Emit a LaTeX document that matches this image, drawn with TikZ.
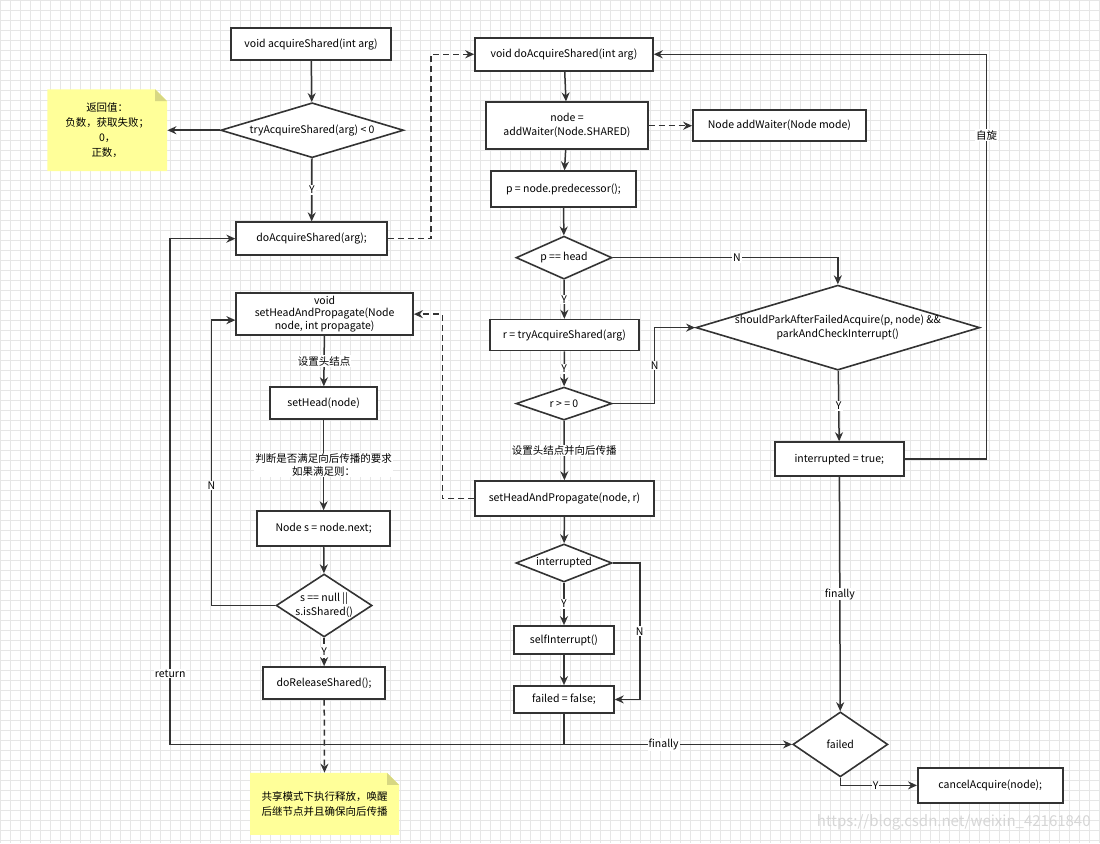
\documentclass[tikz,border=0pt]{standalone}
\usepackage{fontspec}
\setmainfont{Noto Sans CJK SC}
\usetikzlibrary{shapes.geometric,arrows.meta,calc}
\definecolor{ln}{RGB}{51,51,51}
\definecolor{notey}{RGB}{255,255,153}
\definecolor{notef}{RGB}{215,215,130}
\definecolor{gridc}{RGB}{230,230,230}
\begin{document}
\begin{tikzpicture}[x=1pt,y=-1pt, font=\fontsize{10.5}{14}\selectfont,
 box/.style={draw=ln, line width=1.6pt, fill=white, align=center, inner sep=2pt},
 dia/.style={diamond, draw=ln, line width=1.6pt, fill=white, inner sep=0pt},
 arr/.style={draw=ln, line width=1.5pt, -{Stealth[length=9pt,width=8pt]}},
 ln/.style={draw=ln, line width=1.5pt},
 dsh/.style={dash pattern=on 6pt off 4pt},
 lbl/.style={fill=white, inner sep=1pt, text=black},
 notetext/.style={align=center, font=\fontsize{10.5}{15}\selectfont}]
% background and grid
\fill[white] (0,0) rectangle (1100,843);
\draw[gridc, line width=0.6pt, step=10pt] (0,0) grid (1100,843);
\useasboundingbox (0,0) rectangle (1100,843);
% notes (shapes)
\fill[notey] (47,89) -- (155,89) -- (167,101) -- (167,171) -- (47,171) -- cycle;
\fill[notef] (155,89) -- (167,101) -- (155,101) -- cycle;
\fill[notey] (250,773) -- (387,773) -- (399,785) -- (399,835) -- (250,835) -- cycle;
\fill[notef] (387,773) -- (399,785) -- (387,785) -- cycle;
\node[notetext, minimum width=120, minimum height=82] (n1) at (107,130) {返回值：\\负数，获取失败；\\0，\\正数，};
\node[notetext, minimum width=149, minimum height=62] (n2) at (324.5,804) {共享模式下执行释放，唤醒\\后继节点并且确保向后传播};
% left column
\node[box, minimum width=160, minimum height=32] (acq) at (311,44) {void acquireShared(int arg)};
\node[dia, minimum width=183, minimum height=55, label={center:tryAcquireShared(arg) < 0}] (tas) at (312,130) {};
\node[box, minimum width=151, minimum height=33] (da) at (311.5,238.5) {doAcquireShared(arg);};
\node[box, minimum width=177, minimum height=42, font=\fontsize{10.5}{13}\selectfont] (shp2) at (324.5,314) {void\\setHeadAndPropagate(Node\\node, int propagate)};
\node[box, minimum width=107, minimum height=32] (sh) at (323.5,403) {setHead(node)};
\node[box, minimum width=133, minimum height=35] (ns) at (323.5,528.5) {Node s = node.next;};
\node[dia, minimum width=96, minimum height=63, label={[align=center, font=\fontsize{10.5}{14}\selectfont]center:{s == null ||\\s.isShared()}}] (sn) at (324,605.5) {};
\node[box, minimum width=122, minimum height=32] (rel) at (324,683) {doReleaseShared();};
% middle column
\node[box, minimum width=178, minimum height=33] (da2) at (564,54) {void doAcquireShared(int arg)};
\node[box, minimum width=162, minimum height=47] (aw) at (567,125.5) {node =\\addWaiter(Node.SHARED)};
\node[box, minimum width=173, minimum height=31] (awm) at (779.5,125.5) {Node addWaiter(Node mode)};
\node[box, minimum width=145, minimum height=36] (pred) at (563.5,189) {p = node.predecessor();};
\node[dia, minimum width=96, minimum height=43, label={center:p == head}] (ph) at (564,257.5) {};
\node[box, minimum width=149, minimum height=31] (rt) at (564.5,335) {r = tryAcquireShared(arg)};
\node[dia, minimum width=96, minimum height=33, label={center:r > = 0}] (rge) at (564,403.5) {};
\node[box, minimum width=179, minimum height=35] (shp) at (564.5,498.5) {setHeadAndPropagate(node, r)};
\node[dia, minimum width=96, minimum height=38, label={center:interrupted}] (id) at (564,563) {};
\node[box, minimum width=100, minimum height=28] (si) at (564,640) {selfInterrupt()};
\node[box, minimum width=100, minimum height=27] (ff) at (564,699.5) {failed = false;};
% right column
\node[dia, minimum width=284, minimum height=85, label={[align=center]center:{shouldParkAfterFailedAcquire(p, node) \&\&\\parkAndCheckInterrupt()}}] (sp) at (838,327.5) {};
\node[box, minimum width=129, minimum height=34] (it) at (839.5,459) {interrupted = true;};
\node[dia, minimum width=95, minimum height=65, label={center:failed}] (fd) at (840.5,744.5) {};
\node[box, minimum width=145, minimum height=35] (ca) at (990.5,785.5) {cancelAcquire(node);};
% watermark
\node[text=black!16, font=\fontsize{15}{15}\selectfont] (wm) at (954,823) {https://blog.csdn.net/weixin\_42161840};
% connectors
\draw[arr] (acq) -- (tas);
\draw[arr] (tas.west) -- (n1.east);
\draw[arr] (tas) -- node[lbl]{Y} (da);
\draw[arr, dsh] (da.east) -- ++(43,0) |- (da2.west);
\draw[arr] (da2) -- (aw);
\draw[arr, dsh] (aw.east) -- (awm.west);
\draw[arr] (aw) -- (pred);
\draw[arr] (pred) -- (ph);
\draw[arr] (ph.east) -| node[lbl, pos=0.276]{N} (sp.north);
\draw[arr] (ph) -- node[lbl]{Y} (rt);
\draw[arr] (rt) -- node[lbl]{Y} (rge);
\draw[arr] (rge.east) -- ++(42,0) coordinate (c1) -- node[lbl]{N} (c1 |- sp.west) -- (sp.west);
\draw[arr] (sp) -- node[lbl]{Y} (it);
\draw[arr] (it.east) -- ++(82,0) |- node[lbl, pos=0.40]{自旋} (da2.east);
\draw[arr] (it) -- node[lbl]{finally} (fd);
\draw[arr] (rge) -- node[lbl]{设置头结点并向后传播} (shp);
\draw[arr, dsh] (shp.west) -- ++(-32,0) |- (shp2.east);
\draw[arr] (shp2) -- node[lbl]{设置头结点} (sh);
\draw[arr] (sh) -- node[lbl, align=center, font=\fontsize{10.5}{13}\selectfont]{判断是否满足向后传播的要求\\如果满足则：} (ns);
\draw[arr] (ns) -- (sn);
\coordinate (shp2in) at ($(shp2.west)+(0,6)$);
\draw[arr] (sn.west) -- ++(-64,0) coordinate (c2) -- node[lbl, pos=0.42]{N} (c2 |- shp2in) -- (shp2in);
\draw[arr, dsh] (sn) -- node[lbl]{Y} (rel);
\draw[arr, dsh] (rel) -- (n2);
\draw[arr] (shp) -- (id);
\draw[arr] (id) -- node[lbl]{Y} (si);
\draw[arr] (si) -- (ff);
\draw[arr] (id.east) -- ++(27,0) coordinate (c3) -- node[lbl]{N} (c3 |- ff.east) -- (ff.east);
\coordinate (c4) at (ff.south |- fd.west);
\draw[ln] (ff.south) -- (c4);
\draw[arr] (c4) -- node[lbl, pos=0.437]{finally} (fd.west);
\draw[arr] (c4) -- ++(-394,0) coordinate (c5) -- node[lbl, pos=0.14]{return} (c5 |- da.west) -- (da.west);
\draw[arr] (fd.south) |- node[lbl, pos=0.73]{Y} (ca.west);
\end{tikzpicture}
\end{document}
